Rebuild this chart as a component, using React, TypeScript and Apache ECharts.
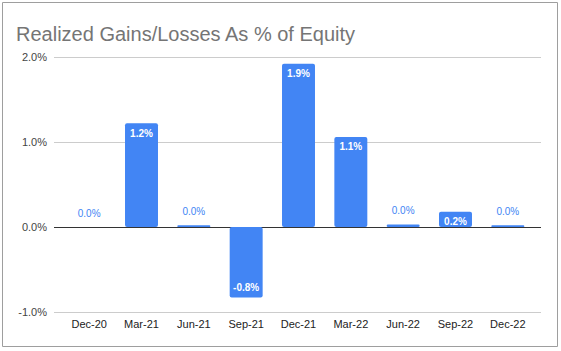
import React, { useEffect, useRef } from "react";
import * as echarts from "echarts";

const categories = ["Dec-20", "Mar-21", "Jun-21", "Sep-21", "Dec-21", "Mar-22", "Jun-22", "Sep-22", "Dec-22"];
const values = [0.0, 1.22, 0.02, -0.83, 1.92, 1.06, 0.03, 0.18, 0.02];
const labelInside = [false, true, false, true, true, true, false, true, false];
const yMin = -1;
const yMax = 2;
const yStep = 1;

const BLUE = "#4285F4";
const FONT = "'Liberation Sans', Arial, sans-serif";

export default function App() {
  const ref = useRef<HTMLDivElement>(null);
  useEffect(() => {
    document.body.style.margin = "0";
    const chart = echarts.init(ref.current!, null, { renderer: "svg" });
    const data = values.map((v, i) => {
      const inside = labelInside[i];
      return {
        value: v,
        label: inside
          ? {
              position: v < 0 ? "insideBottom" : "insideTop",
              distance: 5,
              color: "#ffffff",
              fontWeight: "bold",
            }
          : { position: "top", distance: 9, color: BLUE, fontWeight: "normal" },
      };
    });
    chart.setOption({
      animation: false,
      backgroundColor: "#ffffff",
      title: {
        text: "Realized Gains/Losses As % of Equity",
        left: 11,
        top: 19,
        textStyle: { fontFamily: FONT, fontSize: 20, fontWeight: "normal", color: "#757575" },
      },
      grid: [
        { left: 54, right: 20, top: 57, bottom: 39, containLabel: false },
        { left: 63, right: 27, top: 57, bottom: 39, containLabel: false },
      ],
      xAxis: [
        { type: "value", gridIndex: 0, show: false, min: 0, max: 1 },
        {
          type: "category",
          gridIndex: 1,
          data: categories,
          axisLine: { show: false },
          axisTick: { show: false },
          axisLabel: { fontFamily: FONT, fontSize: 11, color: "#222222", margin: 6 },
        },
      ],
      yAxis: [
        {
          type: "value",
          gridIndex: 0,
          min: yMin,
          max: yMax,
          interval: yStep,
          axisLine: { show: false },
          axisTick: { show: false },
          splitLine: { lineStyle: { color: ["#cccccc", "#333333", "#cccccc", "#cccccc"], width: 1 } },
          axisLabel: {
            fontFamily: FONT,
            fontSize: 11,
            color: "#444444",
            margin: 7,
            formatter: (v: number) => v.toFixed(1) + "%",
          },
        },
        {
          type: "value",
          gridIndex: 1,
          min: yMin,
          max: yMax,
          interval: yStep,
          show: false,
          splitLine: { show: false },
        },
      ],
      series: [
        {
          type: "bar",
          xAxisIndex: 1,
          yAxisIndex: 1,
          data,
          barWidth: "63%",
          itemStyle: { color: BLUE, borderRadius: 2 },
          label: {
            show: true,
            fontFamily: FONT,
            fontSize: 10,
            formatter: (p: any) => (p.value as number).toFixed(1) + "%",
          },
        },
      ],
      graphic: [
        {
          type: "rect",
          shape: { x: 2.5, y: 2.5, width: 555, height: 344 },
          style: { fill: "none", stroke: "#9e9e9e", lineWidth: 1 },
          z: 100,
        },
      ],
    });
    return () => chart.dispose();
  }, []);
  return <div ref={ref} style={{ width: 561, height: 351 }} />;
}
